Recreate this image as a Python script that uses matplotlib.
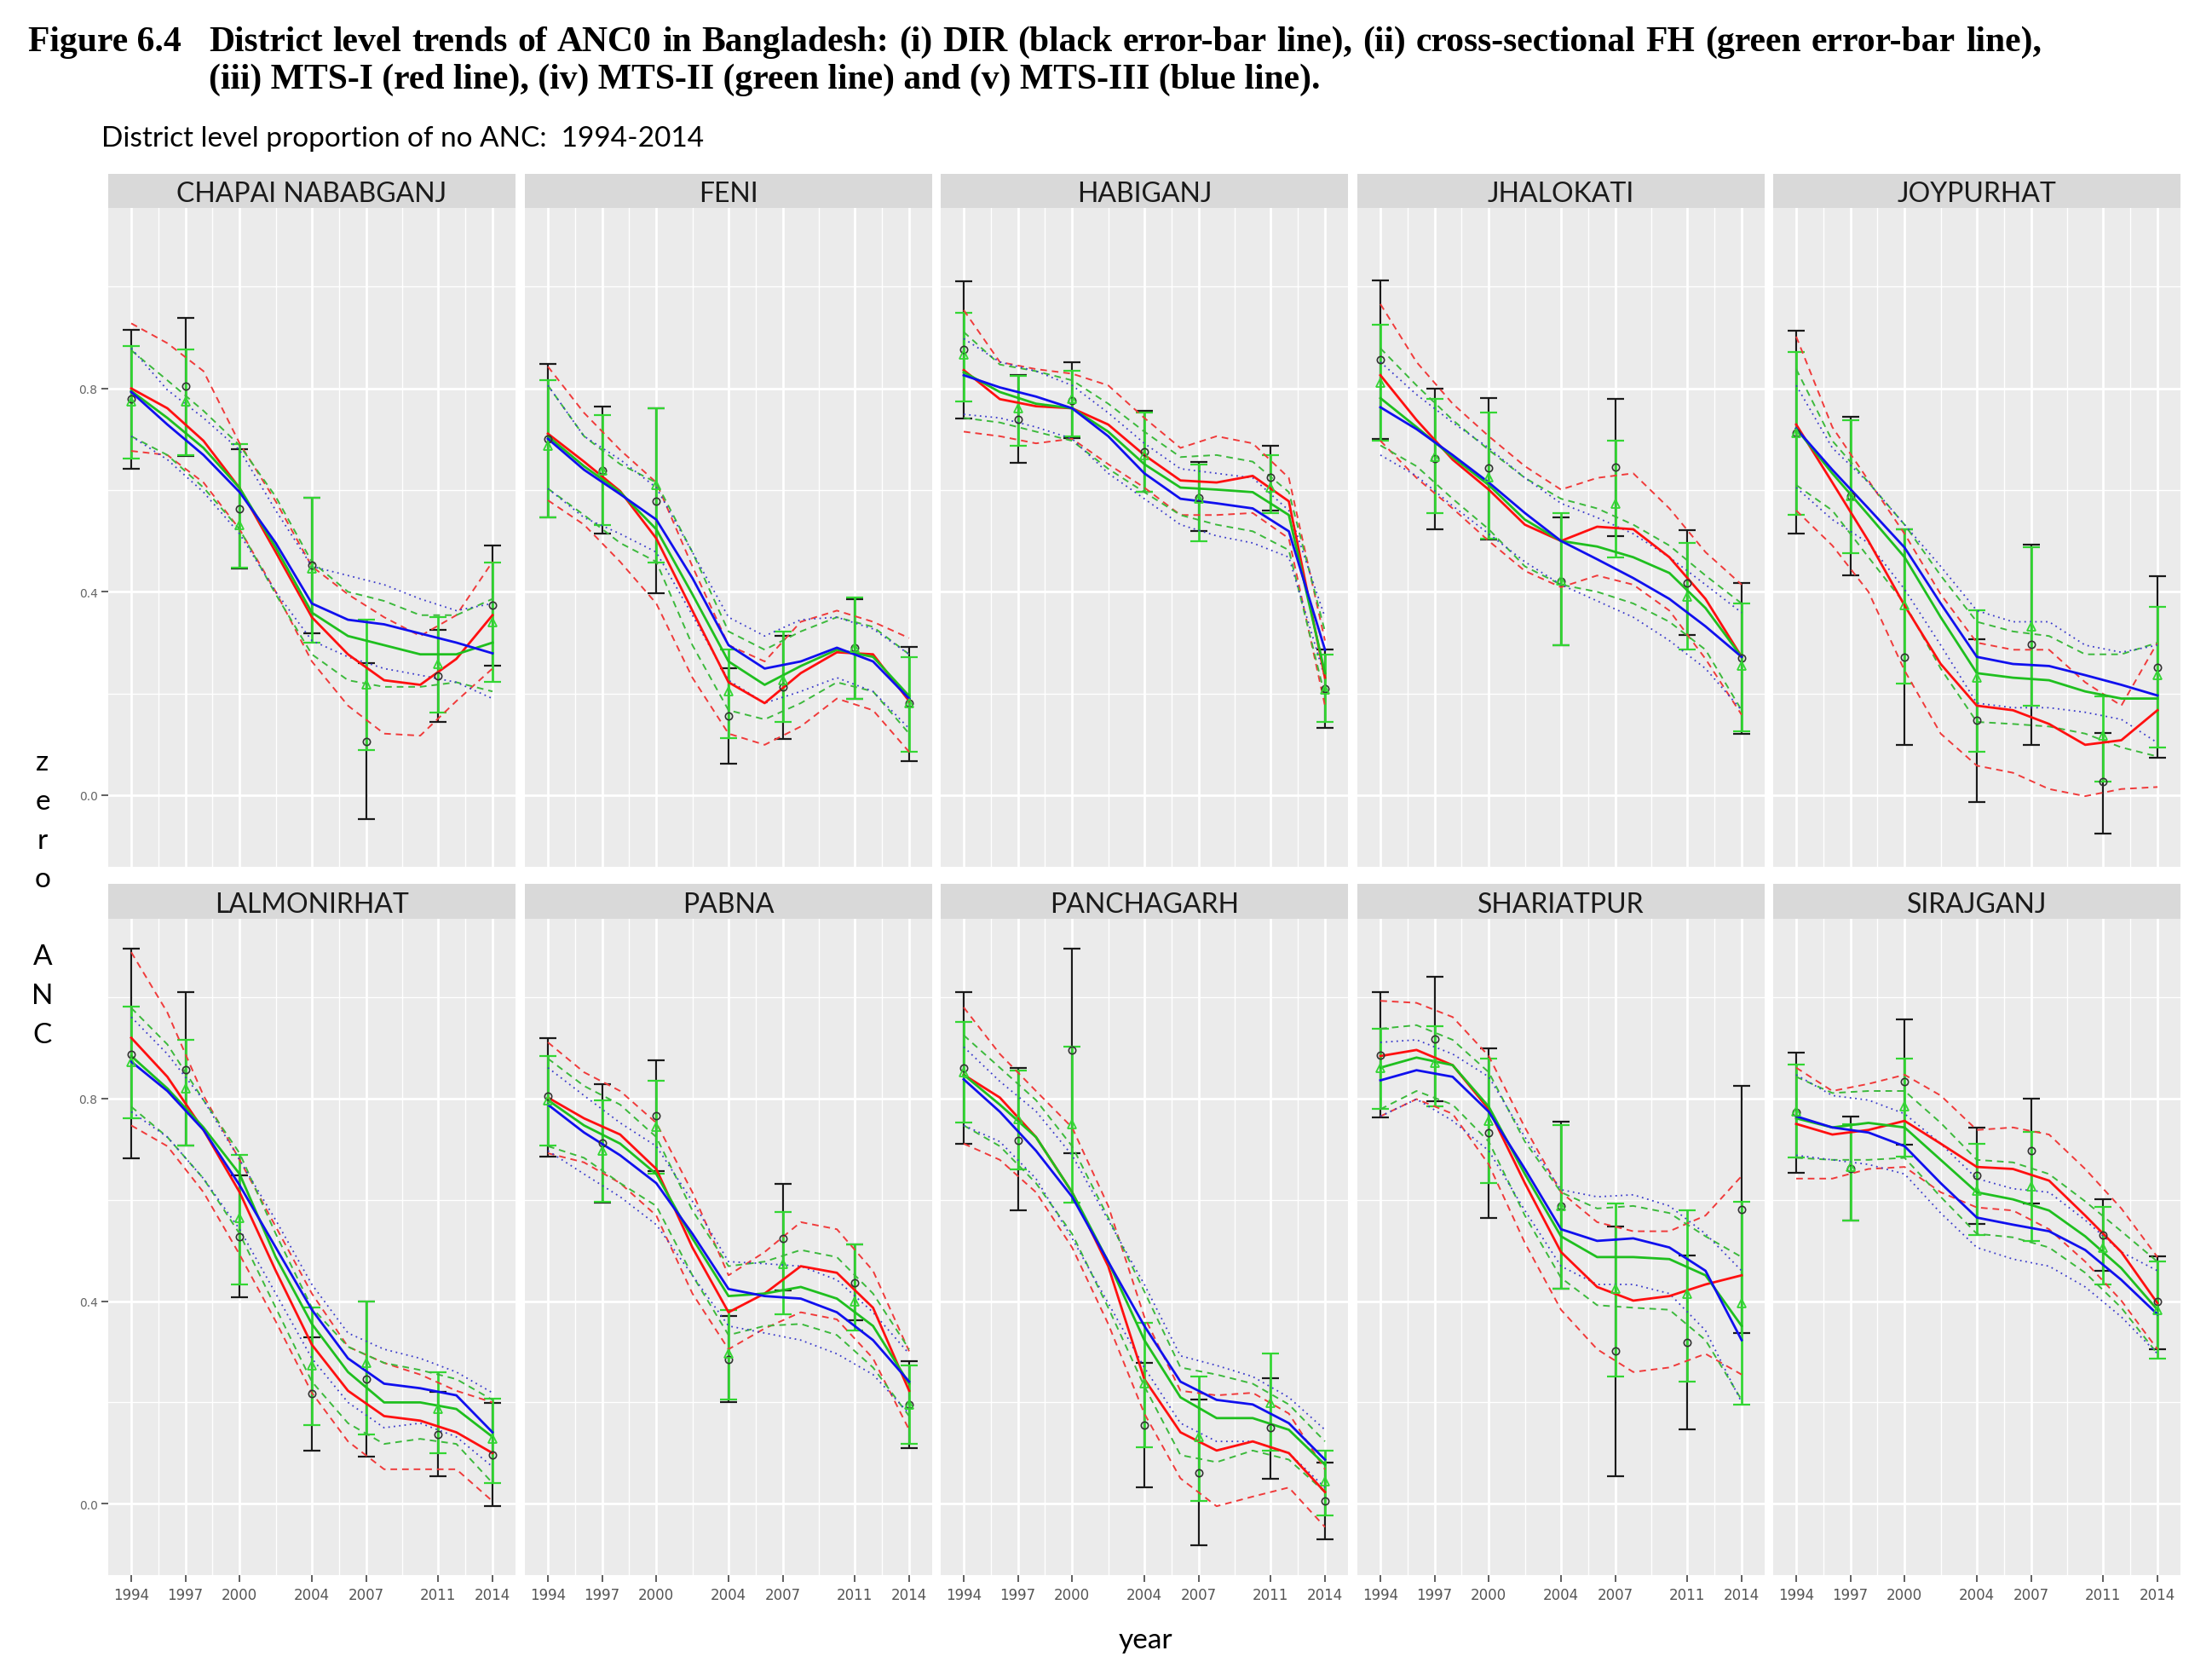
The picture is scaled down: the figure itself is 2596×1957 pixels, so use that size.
import matplotlib
matplotlib.use("Agg")
import matplotlib.pyplot as plt
from matplotlib import font_manager

# survey years (DIR / FH estimates) and the yearly grid the MTS curves are read on
SURVEY_YEARS = [1994, 1997, 2000, 2004, 2007, 2011, 2014]
FIT_YEARS = [1994, 1996, 1998, 2000, 2002, 2004, 2006, 2008, 2010, 2012, 2014]
MINOR_YEARS = [1995.5, 1998.5, 2002, 2005.5, 2009, 2012.5]

DISTRICTS = ["CHAPAI NABABGANJ", "FENI", "HABIGANJ", "JHALOKATI", "JOYPURHAT",
             "LALMONIRHAT", "PABNA", "PANCHAGARH", "SHARIATPUR", "SIRAJGANJ"]

# direct estimates (black error bars)
DIR_EST = [
    [0.779, 0.804, 0.563, 0.452, 0.105, 0.234, 0.373],
    [0.700, 0.639, 0.578, 0.155, 0.213, 0.290, 0.181],
    [0.877, 0.740, 0.776, 0.676, 0.585, 0.626, 0.210],
    [0.857, 0.662, 0.644, 0.421, 0.645, 0.418, 0.269],
    [0.713, 0.589, 0.272, 0.147, 0.297, 0.026, 0.252],
    [0.888, 0.857, 0.527, 0.217, 0.246, 0.137, 0.097],
    [0.805, 0.713, 0.767, 0.285, 0.524, 0.437, 0.196],
    [0.861, 0.718, 0.896, 0.155, 0.061, 0.150, 0.006],
    [0.886, 0.918, 0.733, 0.588, 0.301, 0.319, 0.581],
    [0.773, 0.662, 0.834, 0.649, 0.697, 0.530, 0.399],
]
DIR_LO = [
    [0.642, 0.667, 0.446, 0.319, -0.047, 0.144, 0.254],
    [0.546, 0.514, 0.397, 0.062, 0.110, 0.190, 0.067],
    [0.741, 0.653, 0.703, 0.596, 0.519, 0.560, 0.133],
    [0.700, 0.523, 0.503, 0.295, 0.510, 0.315, 0.121],
    [0.514, 0.432, 0.099, -0.014, 0.099, -0.075, 0.074],
    [0.682, 0.708, 0.407, 0.105, 0.093, 0.055, -0.005],
    [0.686, 0.595, 0.656, 0.200, 0.421, 0.362, 0.109],
    [0.711, 0.579, 0.692, 0.032, -0.082, 0.050, -0.070],
    [0.763, 0.795, 0.565, 0.424, 0.055, 0.146, 0.337],
    [0.653, 0.560, 0.709, 0.553, 0.592, 0.460, 0.305],
]
DIR_HI = [
    [0.916, 0.939, 0.681, 0.585, 0.260, 0.325, 0.491],
    [0.849, 0.765, 0.761, 0.249, 0.313, 0.386, 0.292],
    [1.010, 0.826, 0.851, 0.756, 0.656, 0.688, 0.286],
    [1.012, 0.800, 0.781, 0.546, 0.779, 0.521, 0.418],
    [0.914, 0.745, 0.523, 0.307, 0.493, 0.123, 0.430],
    [1.096, 1.010, 0.649, 0.328, 0.399, 0.221, 0.199],
    [0.920, 0.829, 0.875, 0.371, 0.631, 0.512, 0.282],
    [1.011, 0.861, 1.096, 0.278, 0.205, 0.248, 0.082],
    [1.010, 1.041, 0.900, 0.754, 0.547, 0.490, 0.825],
    [0.891, 0.765, 0.957, 0.743, 0.800, 0.601, 0.489],
]

# cross-sectional FH (green error bars)
FH_EST = [
    [0.774, 0.774, 0.532, 0.446, 0.217, 0.258, 0.341],
    [0.688, 0.639, 0.610, 0.204, 0.226, 0.290, 0.181],
    [0.866, 0.761, 0.779, 0.669, 0.583, 0.605, 0.208],
    [0.811, 0.665, 0.626, 0.423, 0.574, 0.391, 0.254],
    [0.713, 0.589, 0.373, 0.231, 0.332, 0.117, 0.236],
    [0.872, 0.820, 0.565, 0.273, 0.278, 0.187, 0.128],
    [0.797, 0.697, 0.744, 0.296, 0.474, 0.400, 0.196],
    [0.852, 0.760, 0.749, 0.237, 0.132, 0.199, 0.044],
    [0.861, 0.870, 0.756, 0.588, 0.424, 0.415, 0.396],
    [0.774, 0.665, 0.784, 0.618, 0.626, 0.506, 0.383],
]
FH_LO = [
    [0.662, 0.669, 0.447, 0.300, 0.089, 0.163, 0.222],
    [0.546, 0.532, 0.457, 0.112, 0.144, 0.190, 0.085],
    [0.774, 0.688, 0.706, 0.596, 0.500, 0.555, 0.144],
    [0.697, 0.555, 0.505, 0.295, 0.468, 0.286, 0.126],
    [0.551, 0.476, 0.219, 0.085, 0.176, 0.026, 0.094],
    [0.761, 0.708, 0.433, 0.155, 0.137, 0.100, 0.041],
    [0.708, 0.597, 0.651, 0.205, 0.374, 0.342, 0.118],
    [0.752, 0.661, 0.594, 0.112, 0.005, 0.105, -0.023],
    [0.779, 0.784, 0.633, 0.424, 0.252, 0.241, 0.196],
    [0.683, 0.560, 0.685, 0.531, 0.519, 0.433, 0.287],
]
FH_HI = [
    [0.884, 0.877, 0.690, 0.585, 0.345, 0.350, 0.457],
    [0.817, 0.747, 0.761, 0.286, 0.322, 0.388, 0.272],
    [0.948, 0.825, 0.834, 0.752, 0.651, 0.669, 0.277],
    [0.925, 0.779, 0.752, 0.555, 0.697, 0.496, 0.377],
    [0.872, 0.738, 0.523, 0.363, 0.487, 0.195, 0.370],
    [0.981, 0.916, 0.688, 0.387, 0.399, 0.260, 0.208],
    [0.884, 0.797, 0.836, 0.383, 0.576, 0.512, 0.273],
    [0.952, 0.856, 0.902, 0.358, 0.252, 0.296, 0.105],
    [0.938, 0.943, 0.879, 0.747, 0.592, 0.580, 0.597],
    [0.867, 0.750, 0.879, 0.711, 0.735, 0.586, 0.478],
]

# MTS-I (red)
MTS1 = [
    [0.800, 0.761, 0.697, 0.604, 0.478, 0.350, 0.277, 0.226, 0.217, 0.268, 0.354],
    [0.711, 0.656, 0.598, 0.505, 0.363, 0.222, 0.181, 0.240, 0.281, 0.277, 0.185],
    [0.836, 0.779, 0.765, 0.761, 0.729, 0.669, 0.619, 0.615, 0.628, 0.578, 0.231],
    [0.826, 0.738, 0.660, 0.601, 0.532, 0.500, 0.528, 0.523, 0.468, 0.386, 0.272],
    [0.729, 0.615, 0.500, 0.373, 0.258, 0.176, 0.167, 0.140, 0.099, 0.108, 0.167],
    [0.920, 0.843, 0.738, 0.615, 0.460, 0.314, 0.223, 0.173, 0.164, 0.141, 0.100],
    [0.802, 0.761, 0.729, 0.661, 0.506, 0.378, 0.415, 0.469, 0.456, 0.387, 0.223],
    [0.847, 0.802, 0.724, 0.615, 0.469, 0.246, 0.141, 0.105, 0.123, 0.100, 0.023],
    [0.884, 0.896, 0.866, 0.779, 0.633, 0.497, 0.428, 0.401, 0.410, 0.433, 0.451],
    [0.750, 0.729, 0.738, 0.756, 0.711, 0.665, 0.661, 0.638, 0.569, 0.497, 0.396],
]
MTS1_LO = [
    [0.677, 0.669, 0.615, 0.523, 0.400, 0.263, 0.176, 0.121, 0.117, 0.185, 0.249],
    [0.580, 0.532, 0.459, 0.377, 0.231, 0.121, 0.099, 0.135, 0.190, 0.167, 0.085],
    [0.715, 0.706, 0.692, 0.701, 0.651, 0.605, 0.551, 0.551, 0.555, 0.505, 0.176],
    [0.697, 0.624, 0.564, 0.500, 0.441, 0.409, 0.432, 0.414, 0.363, 0.268, 0.158],
    [0.560, 0.491, 0.400, 0.245, 0.121, 0.058, 0.044, 0.012, -0.002, 0.012, 0.016],
    [0.747, 0.706, 0.615, 0.492, 0.360, 0.219, 0.123, 0.068, 0.068, 0.068, 0.005],
    [0.692, 0.674, 0.633, 0.569, 0.415, 0.305, 0.346, 0.378, 0.364, 0.287, 0.146],
    [0.711, 0.679, 0.615, 0.506, 0.355, 0.178, 0.050, -0.005, 0.014, 0.032, -0.046],
    [0.765, 0.799, 0.770, 0.670, 0.515, 0.383, 0.305, 0.260, 0.269, 0.296, 0.255],
    [0.642, 0.642, 0.661, 0.665, 0.615, 0.585, 0.579, 0.542, 0.478, 0.401, 0.305],
]
MTS1_HI = [
    [0.928, 0.889, 0.834, 0.692, 0.578, 0.450, 0.395, 0.350, 0.313, 0.354, 0.459],
    [0.843, 0.752, 0.679, 0.615, 0.450, 0.295, 0.263, 0.341, 0.363, 0.341, 0.309],
    [0.954, 0.852, 0.838, 0.829, 0.806, 0.742, 0.683, 0.706, 0.692, 0.624, 0.304],
    [0.966, 0.852, 0.770, 0.706, 0.647, 0.601, 0.624, 0.633, 0.564, 0.478, 0.414],
    [0.902, 0.724, 0.619, 0.514, 0.395, 0.300, 0.286, 0.286, 0.222, 0.176, 0.300],
    [1.089, 0.970, 0.806, 0.679, 0.547, 0.415, 0.310, 0.278, 0.255, 0.223, 0.200],
    [0.911, 0.852, 0.815, 0.752, 0.615, 0.451, 0.497, 0.556, 0.542, 0.460, 0.301],
    [0.980, 0.888, 0.815, 0.743, 0.588, 0.369, 0.223, 0.214, 0.219, 0.178, 0.068],
    [0.993, 0.989, 0.961, 0.884, 0.743, 0.615, 0.556, 0.538, 0.538, 0.569, 0.647],
    [0.861, 0.815, 0.829, 0.847, 0.806, 0.738, 0.743, 0.729, 0.661, 0.583, 0.487],
]

# MTS-II (green)
MTS2 = [
    [0.795, 0.742, 0.683, 0.604, 0.487, 0.359, 0.313, 0.295, 0.277, 0.277, 0.300],
    [0.706, 0.647, 0.596, 0.523, 0.395, 0.263, 0.217, 0.254, 0.286, 0.272, 0.195],
    [0.832, 0.793, 0.770, 0.761, 0.715, 0.651, 0.605, 0.601, 0.596, 0.551, 0.240],
    [0.781, 0.724, 0.665, 0.610, 0.542, 0.500, 0.489, 0.468, 0.437, 0.368, 0.272],
    [0.721, 0.633, 0.551, 0.468, 0.350, 0.240, 0.231, 0.226, 0.204, 0.190, 0.190],
    [0.884, 0.820, 0.743, 0.651, 0.487, 0.355, 0.260, 0.200, 0.200, 0.187, 0.132],
    [0.797, 0.747, 0.711, 0.651, 0.524, 0.410, 0.415, 0.428, 0.405, 0.351, 0.237],
    [0.847, 0.788, 0.724, 0.615, 0.478, 0.323, 0.210, 0.169, 0.169, 0.146, 0.077],
    [0.861, 0.881, 0.866, 0.784, 0.651, 0.528, 0.487, 0.487, 0.483, 0.451, 0.351],
    [0.761, 0.743, 0.752, 0.743, 0.679, 0.615, 0.601, 0.579, 0.528, 0.465, 0.383],
]
MTS2_LO = [
    [0.706, 0.669, 0.605, 0.523, 0.395, 0.277, 0.226, 0.213, 0.213, 0.222, 0.204],
    [0.603, 0.551, 0.496, 0.459, 0.295, 0.167, 0.149, 0.181, 0.222, 0.204, 0.121],
    [0.742, 0.733, 0.715, 0.697, 0.642, 0.596, 0.551, 0.532, 0.519, 0.482, 0.195],
    [0.688, 0.647, 0.583, 0.523, 0.450, 0.414, 0.400, 0.377, 0.341, 0.286, 0.167],
    [0.610, 0.560, 0.468, 0.377, 0.249, 0.144, 0.140, 0.135, 0.121, 0.094, 0.076],
    [0.784, 0.724, 0.642, 0.533, 0.387, 0.241, 0.159, 0.118, 0.128, 0.118, 0.041],
    [0.706, 0.683, 0.633, 0.588, 0.451, 0.333, 0.351, 0.355, 0.333, 0.269, 0.173],
    [0.747, 0.706, 0.633, 0.533, 0.387, 0.232, 0.096, 0.082, 0.105, 0.087, 0.023],
    [0.779, 0.815, 0.788, 0.715, 0.569, 0.446, 0.392, 0.387, 0.383, 0.323, 0.205],
    [0.683, 0.679, 0.679, 0.683, 0.606, 0.533, 0.526, 0.506, 0.456, 0.387, 0.296],
]
MTS2_HI = [
    [0.875, 0.816, 0.756, 0.688, 0.587, 0.459, 0.400, 0.382, 0.354, 0.354, 0.386],
    [0.806, 0.706, 0.651, 0.615, 0.478, 0.322, 0.286, 0.322, 0.350, 0.331, 0.277],
    [0.911, 0.847, 0.834, 0.816, 0.770, 0.715, 0.665, 0.669, 0.656, 0.596, 0.322],
    [0.879, 0.806, 0.738, 0.679, 0.624, 0.583, 0.564, 0.532, 0.491, 0.432, 0.377],
    [0.838, 0.697, 0.615, 0.532, 0.432, 0.341, 0.322, 0.313, 0.277, 0.277, 0.300],
    [0.979, 0.907, 0.797, 0.692, 0.533, 0.387, 0.310, 0.278, 0.264, 0.246, 0.205],
    [0.879, 0.825, 0.788, 0.724, 0.579, 0.469, 0.478, 0.501, 0.487, 0.415, 0.305],
    [0.925, 0.861, 0.797, 0.706, 0.565, 0.419, 0.269, 0.255, 0.237, 0.196, 0.123],
    [0.938, 0.945, 0.916, 0.852, 0.715, 0.615, 0.583, 0.588, 0.574, 0.528, 0.487],
    [0.843, 0.811, 0.815, 0.815, 0.752, 0.679, 0.674, 0.651, 0.597, 0.538, 0.478],
]

# MTS-III (blue)
MTS3 = [
    [0.793, 0.729, 0.669, 0.596, 0.496, 0.377, 0.345, 0.336, 0.318, 0.300, 0.279],
    [0.701, 0.640, 0.592, 0.542, 0.427, 0.295, 0.249, 0.263, 0.290, 0.263, 0.190],
    [0.826, 0.802, 0.784, 0.761, 0.706, 0.633, 0.583, 0.574, 0.564, 0.519, 0.286],
    [0.763, 0.720, 0.669, 0.615, 0.555, 0.500, 0.464, 0.427, 0.386, 0.332, 0.272],
    [0.721, 0.640, 0.564, 0.487, 0.377, 0.272, 0.258, 0.254, 0.236, 0.217, 0.196],
    [0.873, 0.815, 0.738, 0.629, 0.506, 0.383, 0.287, 0.237, 0.228, 0.214, 0.141],
    [0.788, 0.733, 0.688, 0.633, 0.533, 0.424, 0.410, 0.405, 0.378, 0.323, 0.241],
    [0.838, 0.774, 0.697, 0.606, 0.478, 0.351, 0.241, 0.205, 0.196, 0.159, 0.087],
    [0.836, 0.856, 0.843, 0.774, 0.661, 0.542, 0.519, 0.524, 0.506, 0.460, 0.323],
    [0.765, 0.743, 0.733, 0.706, 0.633, 0.565, 0.551, 0.538, 0.501, 0.442, 0.374],
]
MTS3_LO = [
    [0.706, 0.660, 0.596, 0.514, 0.400, 0.304, 0.272, 0.249, 0.236, 0.222, 0.190],
    [0.603, 0.546, 0.514, 0.478, 0.354, 0.226, 0.181, 0.204, 0.231, 0.204, 0.131],
    [0.749, 0.742, 0.724, 0.701, 0.633, 0.583, 0.532, 0.510, 0.496, 0.468, 0.231],
    [0.669, 0.628, 0.569, 0.514, 0.459, 0.414, 0.382, 0.350, 0.304, 0.249, 0.167],
    [0.605, 0.542, 0.496, 0.405, 0.295, 0.181, 0.172, 0.172, 0.163, 0.149, 0.103],
    [0.774, 0.724, 0.642, 0.542, 0.415, 0.287, 0.200, 0.150, 0.159, 0.132, 0.073],
    [0.697, 0.651, 0.606, 0.551, 0.451, 0.351, 0.337, 0.323, 0.296, 0.255, 0.178],
    [0.747, 0.715, 0.642, 0.524, 0.396, 0.269, 0.159, 0.123, 0.123, 0.100, 0.032],
    [0.765, 0.799, 0.756, 0.697, 0.579, 0.469, 0.433, 0.433, 0.415, 0.342, 0.200],
    [0.688, 0.679, 0.670, 0.651, 0.574, 0.506, 0.483, 0.469, 0.428, 0.369, 0.296],
]
MTS3_HI = [
    [0.879, 0.797, 0.742, 0.679, 0.560, 0.450, 0.432, 0.414, 0.386, 0.363, 0.377],
    [0.806, 0.706, 0.660, 0.605, 0.478, 0.350, 0.313, 0.345, 0.350, 0.327, 0.277],
    [0.898, 0.852, 0.834, 0.806, 0.752, 0.692, 0.642, 0.633, 0.624, 0.560, 0.350],
    [0.852, 0.788, 0.733, 0.683, 0.624, 0.574, 0.546, 0.514, 0.468, 0.414, 0.359],
    [0.806, 0.683, 0.615, 0.532, 0.450, 0.363, 0.341, 0.341, 0.295, 0.281, 0.295],
    [0.961, 0.888, 0.797, 0.679, 0.560, 0.433, 0.337, 0.305, 0.287, 0.260, 0.219],
    [0.861, 0.806, 0.752, 0.706, 0.597, 0.478, 0.474, 0.469, 0.442, 0.378, 0.296],
    [0.902, 0.834, 0.775, 0.688, 0.560, 0.433, 0.292, 0.273, 0.251, 0.210, 0.146],
    [0.911, 0.916, 0.888, 0.843, 0.724, 0.620, 0.606, 0.610, 0.588, 0.533, 0.460],
    [0.847, 0.806, 0.797, 0.770, 0.711, 0.642, 0.622, 0.615, 0.560, 0.497, 0.460],
]

TITLE_1 = ("District level trends of ANC0 in Bangladesh: (i) DIR (black error-bar line), "
           "(ii) cross-sectional FH (green error-bar line),")
TITLE_2 = "(iii) MTS-I (red line), (iv) MTS-II (green line) and (v) MTS-III (blue line)."

W, H = 2596, 1958

installed = {f.name for f in font_manager.fontManager.ttflist}
NARROW = "Liberation Sans Narrow" if "Liberation Sans Narrow" in installed else "DejaVu Sans"
SANS = "Lato"
SERIF = "Liberation Serif"


def box(left, top, width, height):
    # pixel box (from top-left) -> figure fraction
    return [left / W, 1 - (top + height) / H, width / W, height / H]


fig = plt.figure(figsize=(W / 100, H / 100), dpi=100)

col_left = [127, 616, 1104, 1593, 2081]
panel_w = 478
row_geom = [(205, 245, 1018), (1038, 1079, 1849)]  # strip top, plot top, plot bottom

for i, name in enumerate(DISTRICTS):
    r, c = divmod(i, 5)
    s_top, p_top, p_bot = row_geom[r]

    strip = fig.add_axes(box(col_left[c], s_top, panel_w, p_top - s_top))
    strip.set_facecolor("#D9D9D9")
    strip.set_xticks([])
    strip.set_yticks([])
    for sp in strip.spines.values():
        sp.set_visible(False)
    strip.text(0.5, 0.42, name, ha="center", va="center", family=SANS, fontsize=23, color="#1A1A1A")

    ax = fig.add_axes(box(col_left[c], p_top, panel_w, p_bot - p_top))
    ax.set_facecolor("#EBEBEB")
    for sp in ax.spines.values():
        sp.set_visible(False)
    ax.set_xlim(1992.725, 2015.275)
    ax.set_ylim(-0.141, 1.155)
    ax.set_xticks(SURVEY_YEARS)
    ax.set_xticks(MINOR_YEARS, minor=True)
    ax.set_yticks([0.0, 0.4, 0.8])
    ax.set_yticks([0.2, 0.6, 1.0], minor=True)
    ax.set_yticklabels(["0.0", "0.4", "0.8"])
    ax.grid(which="major", color="white", linewidth=2.0)
    ax.grid(which="minor", color="white", linewidth=1.0)
    ax.set_axisbelow(True)
    ax.tick_params(which="minor", length=0)
    ax.tick_params(axis="x", which="major", length=6, width=1.2, color="#444444",
                   labelsize=12, labelcolor="#555555", pad=4,
                   bottom=(r == 1), labelbottom=(r == 1))
    ax.tick_params(axis="y", which="major", length=6, width=1.2, color="#444444",
                   labelsize=10, labelcolor="#666666", pad=3,
                   left=(c == 0), labelleft=(c == 0))
    for lab in ax.get_xticklabels() + ax.get_yticklabels():
        lab.set_family(NARROW)

    # DIR error bars (black) then FH error bars (green)
    d_err = [[e - lo for e, lo in zip(DIR_EST[i], DIR_LO[i])],
             [hi - e for e, hi in zip(DIR_EST[i], DIR_HI[i])]]
    ax.errorbar(SURVEY_YEARS, DIR_EST[i], yerr=d_err, fmt="none", ecolor="#1A1A1A",
                elinewidth=1.6, capsize=7.5, capthick=1.6, zorder=2)
    f_err = [[e - lo for e, lo in zip(FH_EST[i], FH_LO[i])],
             [hi - e for e, hi in zip(FH_EST[i], FH_HI[i])]]
    ax.errorbar(SURVEY_YEARS, FH_EST[i], yerr=f_err, fmt="none", ecolor="#33D633",
                elinewidth=2.0, capsize=7.5, capthick=1.6, zorder=2.1)

    # MTS confidence bands
    ax.plot(FIT_YEARS, MTS1_HI[i], color="#F03A3A", lw=1.4, dashes=(4, 3), zorder=3)
    ax.plot(FIT_YEARS, MTS1_LO[i], color="#F03A3A", lw=1.4, dashes=(4, 3), zorder=3)
    ax.plot(FIT_YEARS, MTS2_HI[i], color="#3CB93C", lw=1.4, dashes=(4, 3), zorder=3)
    ax.plot(FIT_YEARS, MTS2_LO[i], color="#3CB93C", lw=1.4, dashes=(4, 3), zorder=3)
    ax.plot(FIT_YEARS, MTS3_HI[i], color="#3C3CCC", lw=1.3, dashes=(1, 2.5), zorder=3)
    ax.plot(FIT_YEARS, MTS3_LO[i], color="#3C3CCC", lw=1.3, dashes=(1, 2.5), zorder=3)

    # MTS point estimates
    ax.plot(FIT_YEARS, MTS1[i], color="#FF1010", lw=2.0, zorder=4)
    ax.plot(FIT_YEARS, MTS2[i], color="#1FBF1F", lw=2.0, zorder=4)
    ax.plot(FIT_YEARS, MTS3[i], color="#1010EE", lw=2.0, zorder=4)

    # point markers
    ax.plot(SURVEY_YEARS, DIR_EST[i], "o", mfc="none", mec="#333333", ms=6, mew=1.2, zorder=5)
    ax.plot(SURVEY_YEARS, FH_EST[i], "^", mfc="none", mec="#33D633", ms=6.5, mew=1.3, zorder=5)

# caption: first line is justified between x=245 and x=2396 px, like the document text
title_kw = dict(family=SERIF, weight="bold", fontsize=30, va="baseline")
fig.text(33 / W, 1 - 60 / H, "Figure 6.4", **title_kw)
renderer = fig.canvas.get_renderer()
words = [fig.text(0, 1 - 60 / H, w, **title_kw) for w in TITLE_1.split(" ")]
widths = [t.get_window_extent(renderer).width for t in words]
gap = (2396 - 245 - sum(widths)) / (len(words) - 1)
x = 245.0
for t, w in zip(words, widths):
    t.set_x(x / W)
    x += w + gap
fig.text(245 / W, 1 - 104 / H, TITLE_2, **title_kw)

fig.text(119 / W, 1 - 172 / H, "District level proportion of no ANC:  1994-2014",
         family=SANS, fontsize=24, va="baseline")
fig.text(1344 / W, 1 - 1925 / H, "year", family=SANS, fontsize=24, ha="center", va="center")
fig.text(50 / W, 1 - 1055 / H, "z\ne\nr\no\n\nA\nN\nC", family=SANS, fontsize=24,
         ha="center", va="center", linespacing=1.65)

fig.savefig("out.png", dpi=100)
